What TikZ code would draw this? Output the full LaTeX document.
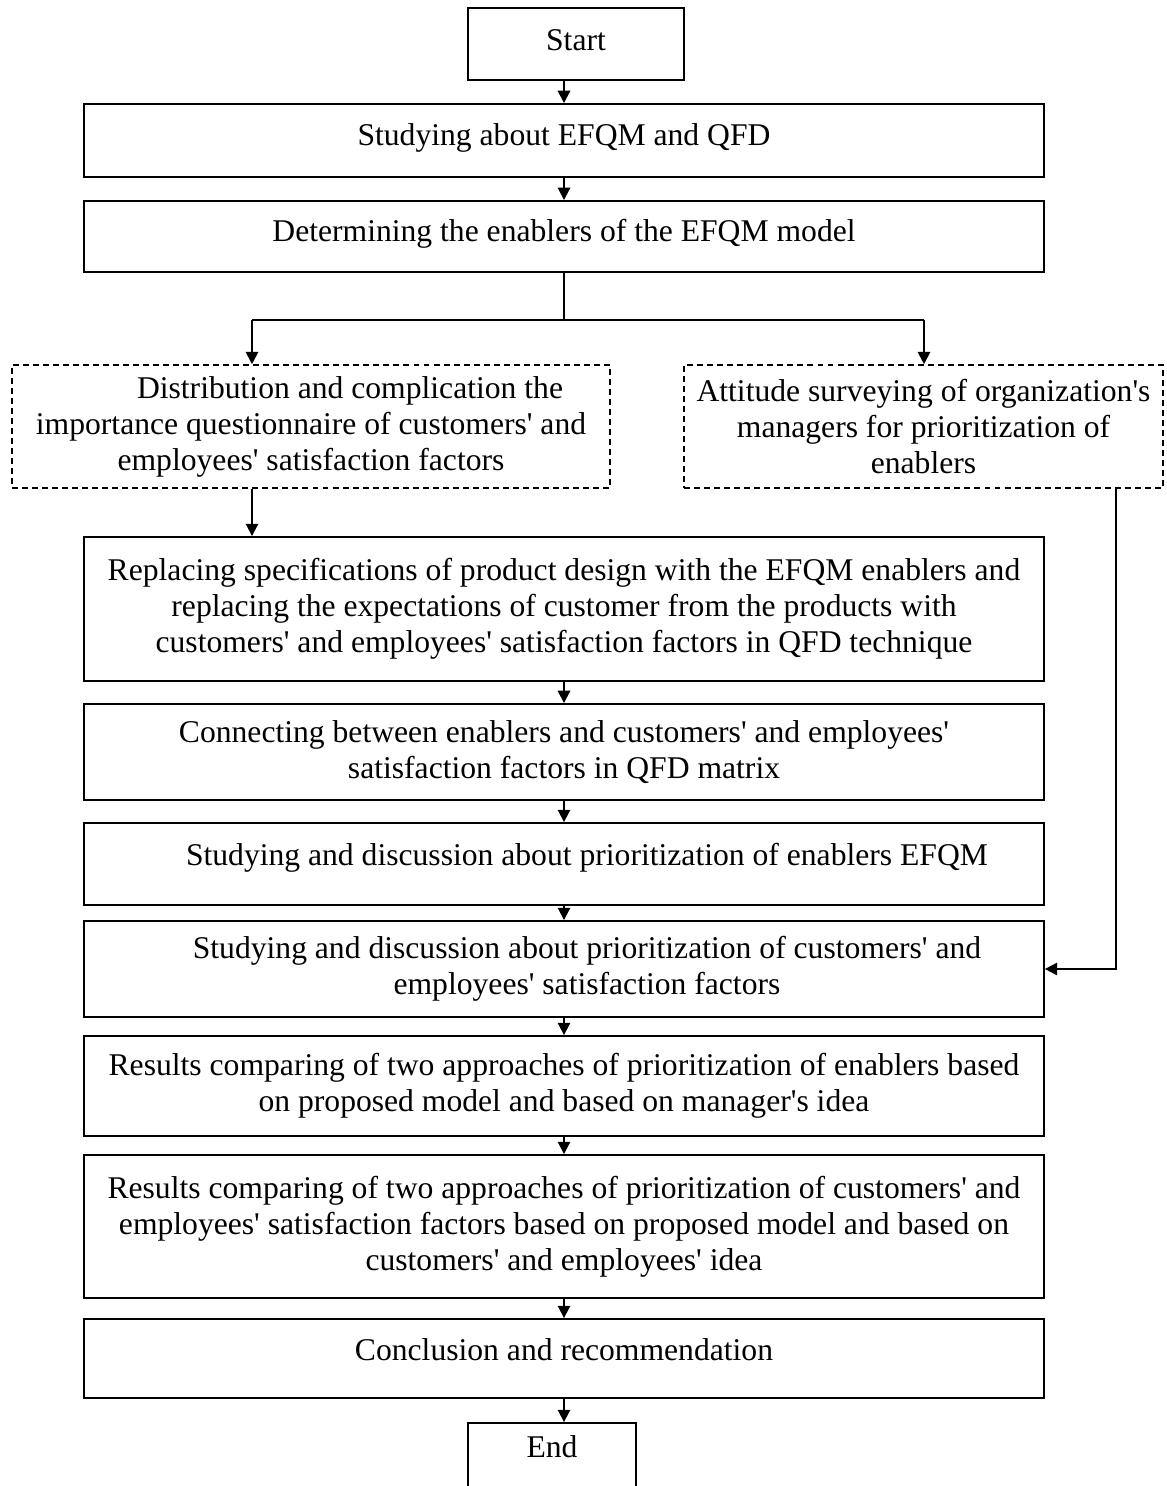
\documentclass[tikz,border=0pt]{standalone}
\usepackage{fontspec}
\setmainfont{Liberation Serif}[Ligatures=TeXOff]
\usetikzlibrary{arrows.meta}

\tikzset{
    box/.style={draw, line width=1.1pt, align=center, inner sep=0pt, font=\fontsize{18}{20.5}\selectfont},
    mainbox/.style={box, minimum width=19.2cm},
    dashbox/.style={box, line width=0.9pt, dash pattern=on 3.4pt off 2.3pt},
    lift/.style={text depth=#1},
    arr/.style={line width=1.1pt, -{Triangle[length=7pt,width=7pt]}},
}
\newcommand{\indentline}[1]{\hspace*{#1}}

\begin{document}
\begin{tikzpicture}[x=0.02cm, y=-0.02cm]
            \useasboundingbox (0,0) rectangle (1166,1486);
            \clip (0,0) rectangle (1166,1486);

            % top of the chart
            \node (start) at (576,44)   [box, lift=4.6pt, minimum width=4.32cm, minimum height=1.44cm] {Start};
            \node (study) at (564,140.5) [mainbox, lift=7.3pt, minimum height=1.46cm] {Studying about EFQM and QFD};
            \node (enab)  at (564,236.5) [mainbox, lift=7.3pt, minimum height=1.42cm] {Determining the enablers of the EFQM model};

            % the two dashed boxes
            \node (distr) at (311,426.5)   [dashbox, minimum width=11.96cm, minimum height=2.46cm]
                {\indentline{1.56cm}Distribution and complication the\\importance questionnaire of customers' and\\employees' satisfaction factors};
            \node (att)   at (923.5,426.5) [dashbox, minimum width=9.58cm, minimum height=2.46cm]
                {Attitude surveying of organization's\\managers for prioritization of\\enablers};

            % main column
            \node (repl)  at (564,609)    [mainbox, minimum height=2.88cm]
                {Replacing specifications of product design with the EFQM enablers and\\replacing the expectations of customer from the products with\\customers' and employees' satisfaction factors in QFD technique};
            \node (conn)  at (564,752)    [mainbox, minimum height=1.92cm]
                {Connecting between enablers and customers' and employees'\\satisfaction factors in QFD matrix};
            \node (stud1) at (564,864)    [mainbox, lift=10.7pt, minimum height=1.64cm]
                {\indentline{0.92cm}Studying and discussion about prioritization of enablers EFQM};
            \node (stud2) at (564,969)    [mainbox, minimum height=1.92cm]
                {\indentline{0.92cm}Studying and discussion about prioritization of customers' and\\\indentline{0.92cm}employees' satisfaction factors};
            \node (comp1) at (564,1086)   [mainbox, minimum height=2.0cm]
                {Results comparing of two approaches of prioritization of enablers based\\on proposed model and based on manager's idea};
            \node (comp2) at (564,1226.5) [mainbox, minimum height=2.86cm]
                {Results comparing of two approaches of prioritization of customers' and\\employees' satisfaction factors based on proposed model and based on\\customers' and employees' idea};
            \node (concl) at (564,1358.5) [mainbox, lift=10pt, minimum height=1.58cm] {Conclusion and recommendation};
            \node (end)   at (552,1461.5) [box, lift=17pt, minimum width=3.36cm, minimum height=1.54cm] {End};

            % branch points
            \coordinate (br)  at (564,320);
            \coordinate (brL) at (252,320);
            \coordinate (brR) at (924,320);
            \coordinate (rt)  at (1116,320);

            \draw[arr] (start.south -| study) -- (study.north);
            \draw[arr] (study.south) -- (enab.north);
            \draw[line width=1.1pt] (enab.south) -- (br);
            \draw[line width=1.1pt] (brL) -- (brR);
            \draw[arr] (brL) -- (brL |- distr.north);
            \draw[arr] (brR) -- (brR |- att.north);
            \draw[arr] (brL |- distr.south) -- (brL |- repl.north);
            \draw[arr] (rt |- att.south) |- (stud2.east);

            \draw[arr] (repl.south) -- (conn.north);
            \draw[arr] (conn.south) -- (stud1.north);
            \draw[arr] (stud1.south) -- (stud2.north);
            \draw[arr] (stud2.south) -- (comp1.north);
            \draw[arr] (comp1.south) -- (comp2.north);
            \draw[arr] (comp2.south) -- (concl.north);
            \draw[arr] (concl.south) -- (concl.south |- end.north);
\end{tikzpicture}
\end{document}
